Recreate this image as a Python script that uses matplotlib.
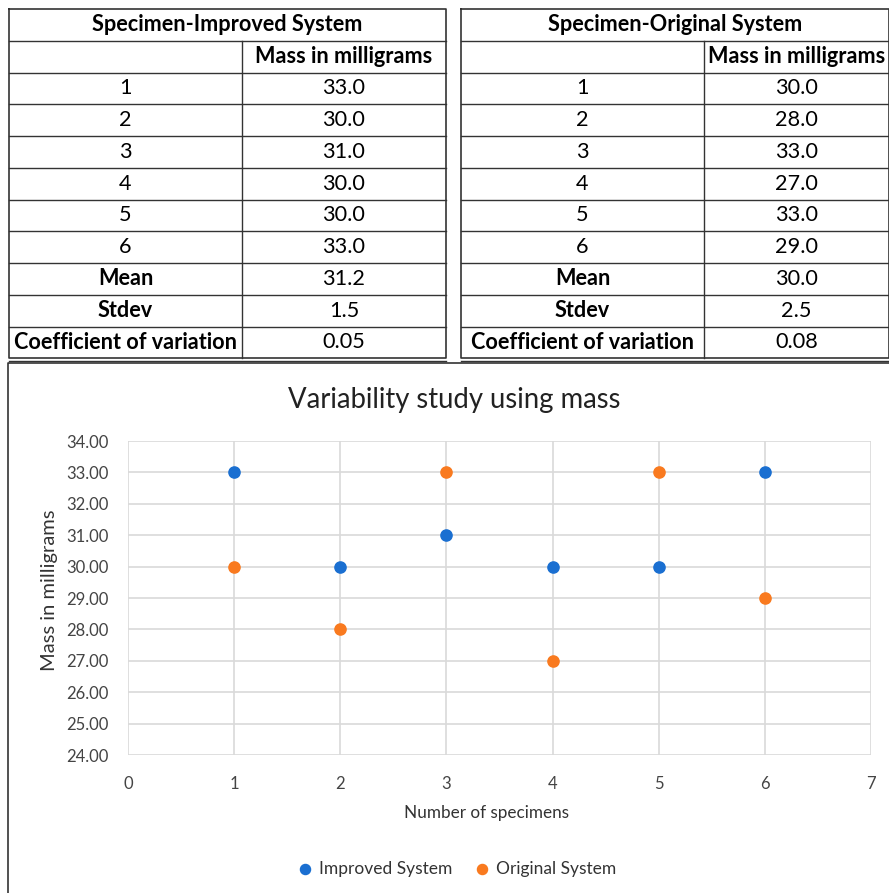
import matplotlib.pyplot as plt
import numpy as np

plt.rcParams['font.family'] = ['Lato', 'DejaVu Sans']

# Data
specimens = [1, 2, 3, 4, 5, 6]
improved = [33.0, 30.0, 31.0, 30.0, 30.0, 33.0]
original = [30.0, 28.0, 33.0, 27.0, 33.0, 29.0]
x_ticks = [0, 1, 2, 3, 4, 5, 6, 7]
y_ticks = [24, 25, 26, 27, 28, 29, 30, 31, 32, 33, 34]

blue = '#1a6fd1'
orange = '#f97a1f'

W, H = 889, 893
fig = plt.figure(figsize=(W / 100, H / 100), dpi=100)

# canvas in pixel coordinates for the tables and chart frame
cv = fig.add_axes([0, 0, 1, 1])
cv.set_xlim(0, W)
cv.set_ylim(H, 0)
cv.axis('off')


def stats(vals):
    v = np.array(vals)
    m = v.mean()
    s = v.std(ddof=1)
    return m, s, s / m


def draw_table(x0, xdiv, x1, title, vals):
    top = 9
    rh = 31.75
    nrows = 11
    lc = '#333333'
    bottom = top + rh * nrows
    # outer box
    cv.plot([x0, x1, x1, x0, x0], [top, top, bottom, bottom, top], color=lc, lw=1.2, clip_on=False)
    for i in range(1, nrows):
        y = top + rh * i
        cv.plot([x0, x1], [y, y], color=lc, lw=1.0, clip_on=False)
    cv.plot([xdiv, xdiv], [top + rh, bottom], color=lc, lw=1.0, clip_on=False)
    # double line at the bottom
    cv.plot([x0, x1], [bottom + 2.5, bottom + 2.5], color=lc, lw=1.0, clip_on=False)

    fs = 15.6
    cl = (x0 + xdiv) / 2
    cr = (xdiv + x1) / 2
    cv.text((x0 + x1) / 2, top + rh / 2, title, ha='center', va='center',
            fontsize=fs, fontweight='bold')
    cv.text(cr, top + rh * 1.5, 'Mass in milligrams', ha='center', va='center',
            fontsize=fs, fontweight='bold')
    for i, (n, v) in enumerate(zip(specimens, vals)):
        y = top + rh * (2.5 + i)
        cv.text(cl, y, str(n), ha='center', va='center', fontsize=fs)
        cv.text(cr, y, f'{v:.1f}', ha='center', va='center', fontsize=fs)
    m, s, c = stats(vals)
    rows = [('Mean', f'{m:.1f}'), ('Stdev', f'{s:.1f}'),
            ('Coefficient of variation', f'{c:.2f}')]
    for j, (lab, val) in enumerate(rows):
        y = top + rh * (8.5 + j)
        cv.text(cl, y, lab, ha='center', va='center', fontsize=fs, fontweight='bold')
        cv.text(cr, y, val, ha='center', va='center', fontsize=fs)


draw_table(9, 242, 446, 'Specimen-Improved System', improved)
draw_table(461, 704, 889, 'Specimen-Original System', original)

# chart frame
cv.plot([8, 8, 889], [H, 363, 363], color='#333333', lw=1.2, clip_on=False)
cv.text(454, 400, 'Variability study using mass', ha='center', va='center',
        fontsize=19.8, color='#222222')

# scatter plot
ax = fig.add_axes([128 / W, (H - 755) / H, 743 / W, 314 / H])
ax.scatter(specimens, improved, s=65, color=blue, label='Improved System', zorder=3)
ax.scatter(specimens, original, s=65, color=orange, label='Original System', zorder=3)
ax.set_xlim(0, 7)
ax.set_ylim(24, 34)
ax.set_xticks(x_ticks)
ax.set_yticks(y_ticks)
ax.set_yticklabels([f'{t:.2f}' for t in y_ticks])
ax.grid(True, color='#d9d9d9', lw=1.2)
ax.set_axisbelow(True)
for sp in ax.spines.values():
    sp.set_visible(False)
ax.tick_params(length=0, labelsize=12, labelcolor='#444444', pad=14)
ax.tick_params(axis='x', pad=15)
ax.set_xlabel('Number of specimens', fontsize=12.3, color='#333333', labelpad=12)
ax.xaxis.set_label_coords(0.483, -0.16)
ax.set_ylabel('Mass in milligrams', fontsize=14.5, color='#333333')
ax.yaxis.set_label_coords(-0.094, 0.525)
ax.legend(loc='center', bbox_to_anchor=(452 / W, (H - 869) / H),
          bbox_transform=fig.transFigure, ncol=2, frameon=False,
          fontsize=12.5, handletextpad=-0.2, columnspacing=0.7,
          markerscale=0.9, labelcolor='#333333')

fig.savefig('out.png', dpi=100)
